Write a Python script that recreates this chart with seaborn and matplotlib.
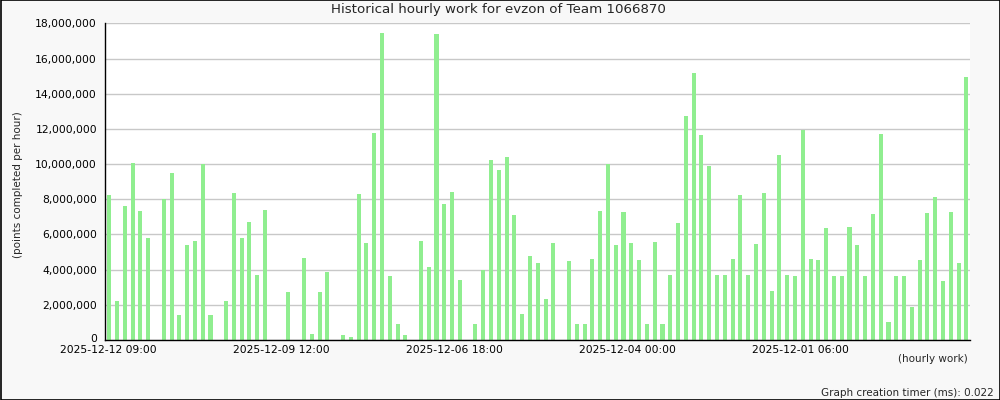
import numpy as np
import pandas as pd
import matplotlib
matplotlib.use("Agg")
import matplotlib.pyplot as plt
import matplotlib.transforms as mtransforms
from matplotlib.patches import Rectangle
from matplotlib.ticker import FuncFormatter
import seaborn as sns

# hourly points per slot (millions), newest first; 0 = no work that slot
work_millions = [
    8.25, 2.22, 7.62, 10.07, 7.34, 5.80, 0, 8.02, 9.50, 1.42,
    5.40, 5.63, 9.99, 1.42, 0, 2.22, 8.36, 5.80, 6.71, 3.70,
    7.39, 0, 0, 2.73, 0, 4.66, 0.34, 2.73, 3.87, 0,
    0.28, 0.17, 8.30, 5.52, 11.77, 17.46, 3.64, 0.91, 0.28, 0,
    5.63, 4.15, 17.40, 7.73, 8.42, 3.41, 0, 0.91, 3.96, 10.24,
    9.67, 10.41, 7.11, 1.48, 4.78, 4.38, 2.33, 5.52, 0, 4.49,
    0.91, 0.91, 4.61, 7.34, 10.01, 5.40, 7.28, 5.52, 4.55, 0.91,
    5.57, 0.91, 3.70, 6.65, 12.74, 15.18, 11.66, 9.90, 3.70, 3.70,
    4.61, 8.25, 3.70, 5.46, 8.36, 2.79, 10.52, 3.70, 3.64, 11.94,
    4.61, 4.55, 6.37, 3.64, 3.64, 6.43, 5.40, 3.64, 7.17, 11.72,
    1.02, 3.64, 3.64, 1.88, 4.55, 7.22, 8.13, 3.36, 7.28, 4.38,
    14.96,
]
tick_labels = ["2025-12-12 09:00", "", "2025-12-09 12:00", "", "2025-12-06 18:00", "",
               "2025-12-04 00:00", "", "2025-12-01 06:00", "", ""]

df = pd.DataFrame({"slot": np.arange(len(work_millions)),
                   "points": np.array(work_millions) * 1e6})

sns.set_style("white")
plt.rcParams["font.family"] = ["DejaVu Sans"]

fig = plt.figure(figsize=(10, 4), dpi=100, facecolor="#f8f8f8")
ax = fig.add_axes([0.1053, 0.15, 0.865, 0.7917])
ax.set_facecolor("white")

sns.barplot(data=df, x="slot", y="points", color="#90ee90", saturation=1,
            width=0.52, errorbar=None, ax=ax, edgecolor="none", linewidth=0)
for p in ax.patches:
    p.set_zorder(3)

n = len(work_millions)
ax.set_xlim(-0.5, n - 0.5)
ax.set_ylim(0, 18e6)
ax.set_yticks(np.arange(0, 18e6 + 1, 2e6))
ax.yaxis.set_major_formatter(FuncFormatter(lambda v, p: f"{v:,.0f}"))
ax.set_xticks(np.linspace(-0.5, n - 0.5, len(tick_labels)))
ax.set_xticklabels(tick_labels)
ax.grid(axis="y", color="#c8c8c8", linewidth=1)
ax.set_axisbelow(True)

for s in ["top", "right"]:
    ax.spines[s].set_visible(False)
for s in ["left", "bottom"]:
    ax.spines[s].set_color("black")
    ax.spines[s].set_linewidth(1)
    ax.spines[s].set_zorder(4)

ax.tick_params(axis="both", direction="in", length=4, width=1, color="black",
               labelsize=7.75, labelcolor="black")
ax.tick_params(axis="y", pad=6)
ax.tick_params(axis="x", pad=3.5)
offset = mtransforms.ScaledTranslation(3 / 100, 0, fig.dpi_scale_trans)
for lab in ax.get_xticklabels():
    lab.set_transform(lab.get_transform() + offset)
# lift the "0" label a touch, it sits right above the first date
zero_lab = ax.get_yticklabels()[0]
zero_lab.set_transform(zero_lab.get_transform()
                       + mtransforms.ScaledTranslation(0, 1.5 / 100, fig.dpi_scale_trans))

ax.set_xlabel("")
ax.set_ylabel("")

fig.text(0.498, 1 - 10 / 400, "Historical hourly work for evzon of Team 1066870",
         ha="center", va="center", fontsize=9.6)
fig.text(0.018, 1 - 185 / 400, "(points completed per hour)", rotation=90,
         ha="center", va="center", fontsize=7.5)
fig.text(0.968, 1 - 359 / 400, "(hourly work)", ha="right", va="center", fontsize=7.5)
fig.text(0.994, 1 - 393 / 400, "Graph creation timer (ms): 0.022",
         ha="right", va="center", fontsize=7.5)

fig.patches.append(Rectangle((0.0005, 0.001), 0.999, 0.998, transform=fig.transFigure,
                             fill=False, edgecolor="black", linewidth=1.2))

fig.savefig("out.png", dpi=100, facecolor=fig.get_facecolor())
